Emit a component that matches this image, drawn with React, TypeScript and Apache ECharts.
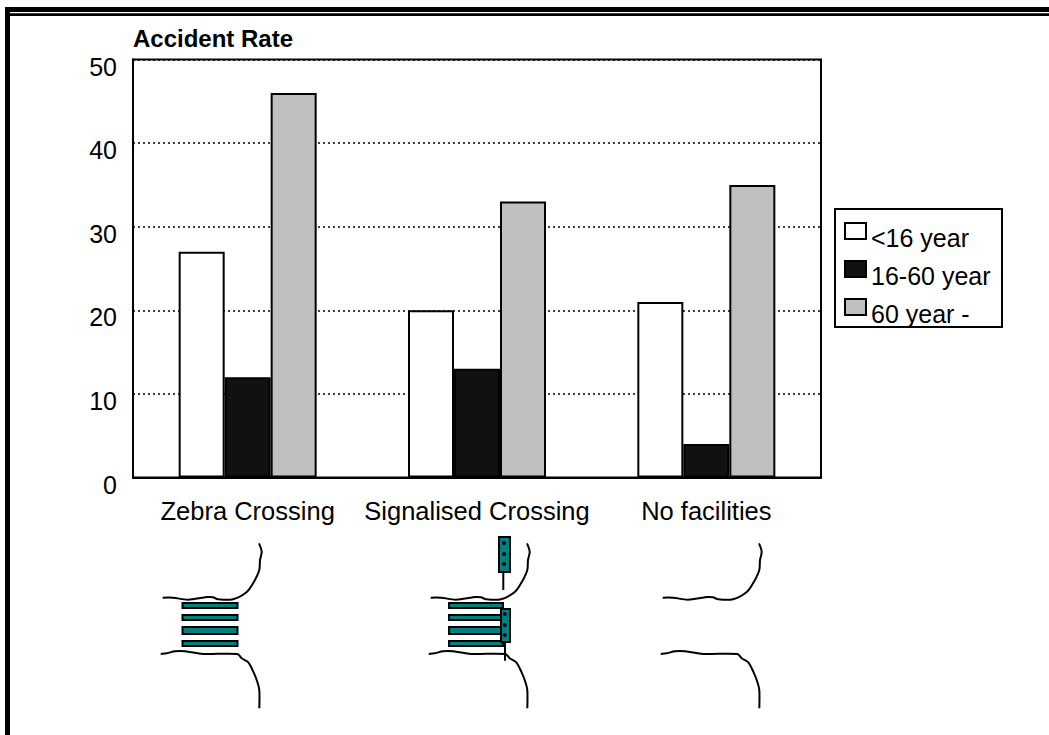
import React, { useEffect, useRef } from "react";
import * as echarts from "echarts";

const categories = ["Zebra Crossing", "Signalised Crossing", "No facilities"];
const under16 = [27, 20, 21];
const middle = [12, 13, 4];
const over60 = [46, 33, 35];
const seriesNames = ["<16 year", "16-60 year", "60 year -"];
const seriesColors = ["#ffffff", "#111111", "#c0c0c0"];
const FONT = "'Liberation Sans', Arial, sans-serif";

const roadUpper = [[162.7,597.7],[173,597.7],[188,599.7],[207,597],[213,597.3],[218,599.3],[233,599.3],[247,591.7],[254,581.7],[259.3,570],[260,560],[261.7,551.7],[259,543.3]];
const roadLower = [[160.7,654],[167,653.3],[175,651.3],[185,651.3],[203,654],[237.3,654],[241.7,658.3],[248.3,662.3],[253.3,671.7],[257.3,681.7],[259.3,690],[259.3,708.3]];
const roadOffsets = [0, 268, 500];
const stripeY = [[603,5],[615,5],[627,7],[641,5]];
const stripeX = [[182.5,55],[449,54]];
const signals = [
  { x: 499, y: 537, w: 11, h: 35, poleX: 503.3, poleEnd: 590, dots: [[504,543],[504,554],[504,564]] },
  { x: 501, y: 609, w: 9, h: 33, poleX: 505, poleEnd: 660.7, dots: [[504.7,614],[504.7,625],[504.7,635]] },
];
const TEAL = "#008080";

function drawings(): any[] {
  const out: any[] = [];
  const rect = (x:number,y:number,w:number,h:number,fill:string,stroke?:string,lw=0,z=1) =>
    ({ type: "rect", z, shape: { x, y, width: w, height: h }, style: { fill, stroke, lineWidth: lw } });
  out.push(rect(5,7,1044,5,"#000"), rect(5,13.3,1044,2.7,"#000"), rect(5,7,5,728,"#000"));
  out.push(rect(835,209,167,118,"none","#000",2,0));
  roadOffsets.forEach((dx) => {
    [roadUpper, roadLower].forEach((r) =>
      out.push({ type: "polyline", z: 1, shape: { points: r.map((p) => [p[0] + dx, p[1]]), smooth: 0.3 },
        style: { stroke: "#000", lineWidth: 2, fill: "none" } }));
  });
  stripeX.forEach(([x,w]) => stripeY.forEach(([y,h]) => out.push(rect(x,y,w,h,TEAL,"#000",2,2))));
  signals.forEach((s) => {
    out.push({ type: "line", z: 3, shape: { x1: s.poleX, y1: s.y + s.h, x2: s.poleX, y2: s.poleEnd }, style: { stroke: "#000", lineWidth: 2 } });
    out.push(rect(s.x,s.y,s.w,s.h,TEAL,"#000",2,3));
    s.dots.forEach(([cx,cy]) => out.push({ type: "circle", z: 4, shape: { cx, cy, r: 2 }, style: { fill: "#000" } }));
  });
  return out;
}

export default function App() {
  const ref = useRef<HTMLDivElement>(null);
  useEffect(() => {
    const chart = echarts.init(ref.current!, undefined, { renderer: "svg" });
    const bar = (i: number, data: number[]) => ({
      type: "bar", name: seriesNames[i], data, barWidth: 46, barGap: "0%",
      itemStyle: { color: seriesColors[i], borderColor: "#000", borderWidth: 2 },
    });
    chart.setOption({
      animation: false,
      backgroundColor: "#fff",
      textStyle: { fontFamily: FONT },
      title: { text: "Accident Rate", left: 133, top: 26, padding: 0,
        textStyle: { fontFamily: FONT, fontSize: 24, fontWeight: "bold", color: "#000" } },
      grid: { left: 133, right: 228, top: 59.5, bottom: 257.5, show: true, borderColor: "#000", borderWidth: 2, containLabel: false },
      xAxis: { type: "category", data: categories,
        axisLine: { show: true, lineStyle: { color: "#000", width: 2 } }, axisTick: { show: false },
        axisLabel: { color: "#000", fontFamily: FONT, fontSize: 25.5, margin: 20, interval: 0 } },
      yAxis: { type: "value", min: 0, max: 50, interval: 10,
        axisLine: { show: true, lineStyle: { color: "#000", width: 2 } }, axisTick: { show: false },
        axisLabel: { color: "#000", fontFamily: FONT, fontSize: 25, margin: 16, formatter: "{a|{value}}",
          rich: { a: { color: "#000", fontFamily: FONT, fontSize: 25, padding: [14, 0, 0, 0] } } },
        splitLine: { show: true, lineStyle: { color: "#000", width: 1.5, type: [2, 3] } } },
      legend: { orient: "vertical", left: 844, top: 222, padding: 0, itemWidth: 21, itemHeight: 16, itemGap: 9.5,
        icon: "rect", data: seriesNames, formatter: "{a|{name}}",
        textStyle: { color: "#000", fontFamily: FONT, fontSize: 25,
          rich: { a: { color: "#000", fontFamily: FONT, fontSize: 25, padding: [14, 0, 0, 0] } } } },
      series: [bar(0, under16), bar(1, middle), bar(2, over60)],
      graphic: drawings(),
    });
    return () => chart.dispose();
  }, []);
  return <div ref={ref} style={{ position: "absolute", left: 0, top: 0, width: 1049, height: 735 }} />;
}
